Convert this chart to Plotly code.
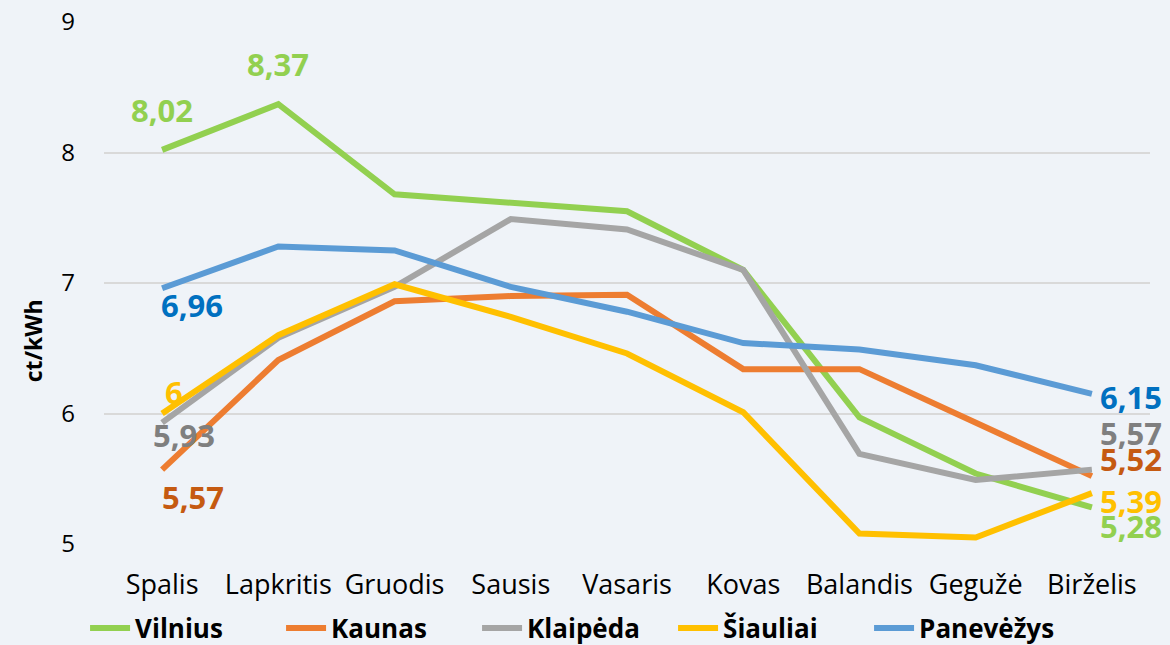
import plotly.graph_objects as go

months = ["Spalis", "Lapkritis", "Gruodis", "Sausis", "Vasaris", "Kovas", "Balandis", "Gegužė", "Birželis"]

vilnius = [8.02, 8.37, 7.68, 7.62, 7.55, 7.10, 5.97, 5.54, 5.28]
kaunas = [5.57, 6.41, 6.86, 6.90, 6.91, 6.34, 6.34, 5.93, 5.52]
klaipeda = [5.93, 6.58, 6.97, 7.49, 7.41, 7.10, 5.69, 5.49, 5.57]
siauliai = [6.00, 6.60, 6.99, 6.74, 6.46, 6.01, 5.08, 5.05, 5.39]
panevezys = [6.96, 7.28, 7.25, 6.97, 6.78, 6.54, 6.49, 6.37, 6.15]

series_names = ["Vilnius", "Kaunas", "Klaipėda", "Šiauliai", "Panevėžys"]
series_values = [vilnius, kaunas, klaipeda, siauliai, panevezys]
y_title = "ct/kWh"

line_colors = ["#92D050", "#ED7D31", "#A5A5A5", "#FFC000", "#5B9BD5"]
label_colors = ["#92D050", "#C55A11", "#7F7F7F", "#FFC000", "#0070C0"]

# label style: (point index, xanchor, xshift, yshift)
label_styles = {
    "Vilnius": [(0, "center", 0, 40), (1, "center", 0, 40), (8, "left", 6, -19)],
    "Kaunas": [(0, "center", 31, -27), (8, "left", 6, 17)],
    "Klaipėda": [(0, "center", 22, -12), (8, "left", 6, 37)],
    "Šiauliai": [(0, "center", 12, 22), (8, "left", 6, -8)],
    "Panevėžys": [(0, "center", 30, -17), (8, "left", 6, -3)],
}

FONT = "'Open Sans', sans-serif"
BG = "#EFF3F8"

fig = go.Figure()
annotations = []
for name, vals, lc, tc in zip(series_names, series_values, line_colors, label_colors):
    fig.add_trace(go.Scatter(
        x=months, y=vals, mode="lines", name=name,
        line=dict(color=lc, width=6),
    ))
    for idx, xa, xs, ys in label_styles[name]:
        v = vals[idx]
        txt = f"{v:.2f}".replace(".", ",")
        if txt.endswith(",00"):
            txt = txt[:-3]
        annotations.append(dict(
            x=months[idx], y=v, xref="x", yref="y", text=txt,
            showarrow=False, xanchor=xa, yanchor="middle",
            xshift=xs, yshift=ys,
            font=dict(family=FONT, size=31, color=tc, weight="bold"),
        ))

# y-axis title (placed lower than centre, as in the reference)
annotations.append(dict(
    x=-0.067, y=0.39, xref="paper", yref="paper", text=y_title,
    textangle=-90, showarrow=False, xanchor="center", yanchor="middle",
    font=dict(family=FONT, size=23, color="#000000", weight="bold"),
))

fig.update_layout(
    width=1170, height=645,
    paper_bgcolor=BG, plot_bgcolor=BG,
    margin=dict(l=104, r=20, t=22, b=101, autoexpand=False),
    font=dict(family=FONT, size=24, color="#000000"),
    showlegend=True,
    legend=dict(
        orientation="h", xref="container", x=0.4915, xanchor="center",
        yref="paper", y=-0.161, yanchor="middle",
        font=dict(family=FONT, size=26, color="#000000", weight="bold"),
        itemwidth=40, entrywidth=141, tracegroupgap=0, bgcolor="rgba(0,0,0,0)",
    ),
    annotations=annotations,
)
fig.update_xaxes(
    range=[-0.5, 8.5], showgrid=False, showline=False, zeroline=False, automargin=False,
    ticks="", tickfont=dict(size=27, family=FONT), ticklabelstandoff=22,
)
fig.update_yaxes(
    range=[5, 9], dtick=1, showgrid=True, gridcolor="#D9D9D9", gridwidth=1.5,
    zeroline=False, showline=False, ticks="", automargin=False,
    tickfont=dict(size=24, family=FONT), ticklabelstandoff=28,
)

fig.write_html(
    "out.html",
    config={"displayModeBar": False},
    post_script="document.body.style.margin='0';document.body.style.background='" + BG + "';",
)
